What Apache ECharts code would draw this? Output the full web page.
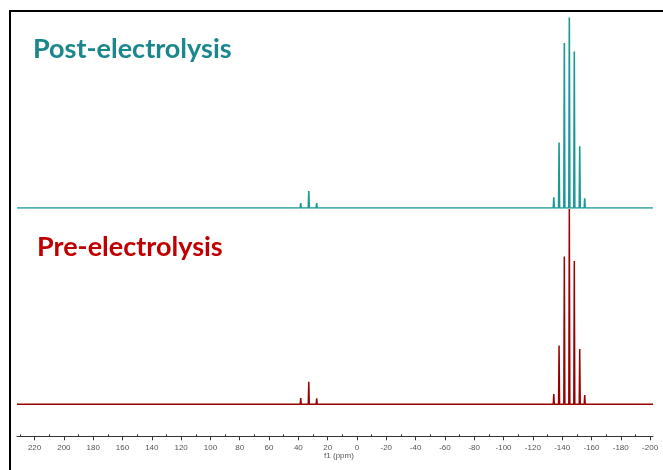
<!DOCTYPE html>
<html>
<head>
<meta charset="utf-8">
<script src="https://cdn.jsdelivr.net/npm/echarts@6/dist/echarts.min.js"></script>
<style>html,body{margin:0;padding:0;background:#fff}#c{width:663px;height:470px}</style>
</head>
<body>
<div id="c"></div>
<script>
// ppm range of the spectrum (reversed axis)
const ppmStart = 232;
const ppmEnd = -202;
// Tick labels (ppm)
const tickLabels = [220,200,180,160,140,120,100,80,60,40,20,0,-20,-40,-60,-80,-100,-120,-140,-160,-180,-200];
const minorTicks = [230,210,190,170,150,130,110,90,70,50,30,10,-10,-30,-50,-70,-90,-110,-130,-150,-170,-190];
// Post-electrolysis peaks (ppm, intensity)
const postPeakPpm = [38.4, 32.9, 27.5, -134.3, -137.9, -141.5, -144.9, -148.3, -152.0, -155.4];
const postPeakInt = [5, 17, 5, 10.7, 65.4, 165, 190.4, 156.4, 61.7, 9.7];
// Pre-electrolysis peaks (ppm, intensity)
const prePeakPpm = [38.4, 32.9, 27.5, 26.2, 24.4, -134.3, -137.9, -141.5, -144.9, -148.3, -152.0, -155.4];
const prePeakInt = [6.3, 22.6, 6, 1, 1, 10.3, 58.6, 147.6, 195, 143, 55.3, 9.3];

function buildTrace(ppm, inten) {
  const pts = [[ppmStart, 0]];
  const idx = ppm.map((p, i) => i).sort((a, b) => ppm[b] - ppm[a]);
  const hw = 0.35;
  idx.forEach(i => {
    pts.push([ppm[i] + hw, 0]);
    pts.push([ppm[i], inten[i]]);
    pts.push([ppm[i] - hw, 0]);
  });
  pts.push([ppmEnd, 0]);
  return pts;
}

const chart = echarts.init(document.getElementById('c'), null, {renderer: 'canvas'});
const xBase = {type: 'value', min: ppmEnd, max: ppmStart, inverse: true, splitLine: {show: false}};
chart.setOption({
  animation: false,
  grid: [
    {left: 17, right: 10, top: 17.5, height: 190.5},
    {left: 17, right: 10, top: 209, height: 195.3}
  ],
  xAxis: [
    Object.assign({}, xBase, {gridIndex: 0, show: false}),
    Object.assign({}, xBase, {
      gridIndex: 1, position: 'bottom', offset: 32,
      axisLine: {show: true, onZero: false, lineStyle: {color: '#333', width: 1}},
      axisTick: {show: true, inside: false, length: 4, customValues: tickLabels, lineStyle: {color: '#333'}},
      axisLabel: {show: true, customValues: tickLabels, color: '#555', fontSize: 8, fontFamily: 'Liberation Sans', margin: 7,
        formatter: v => String(v)},
      name: 'f1 (ppm)', nameLocation: 'middle', nameGap: 14,
      nameTextStyle: {color: '#555', fontSize: 8, fontFamily: 'Liberation Sans', padding: [0, 0, 0, 8]}
    }),
    Object.assign({}, xBase, {
      gridIndex: 1, position: 'bottom', offset: 32,
      axisLine: {show: false, onZero: false},
      axisTick: {show: true, inside: true, length: 2, customValues: minorTicks, lineStyle: {color: '#333'}},
      axisLabel: {show: false}
    })
  ],
  yAxis: [
    {type: 'value', gridIndex: 0, min: 0, max: 190.4, show: false},
    {type: 'value', gridIndex: 1, min: 0, max: 195, show: false}
  ],
  series: [
    {type: 'line', xAxisIndex: 1, yAxisIndex: 1, data: buildTrace(prePeakPpm, prePeakInt),
      showSymbol: false, symbol: 'none', lineStyle: {color: '#990000', width: 1.5}, z: 2},
    {type: 'line', xAxisIndex: 0, yAxisIndex: 0, data: buildTrace(postPeakPpm, postPeakInt),
      showSymbol: false, symbol: 'none', lineStyle: {color: '#1a9a96', width: 1.6}, z: 3}
  ],
  graphic: [
    {type: 'line', shape: {x1: 9, y1: 11, x2: 663, y2: 11}, style: {stroke: '#000', lineWidth: 2}},
    {type: 'line', shape: {x1: 10, y1: 10, x2: 10, y2: 470}, style: {stroke: '#000', lineWidth: 2}},
    {type: 'text', left: 33, top: 36, style: {text: 'Post-electrolysis', font: 'bold 27px Lato', fill: '#1b878c'}},
    {type: 'text', left: 37, top: 233.5, style: {text: 'Pre-electrolysis', font: 'bold 27px Lato', fill: '#c00000'}}
  ]
});
</script>
</body>
</html>
